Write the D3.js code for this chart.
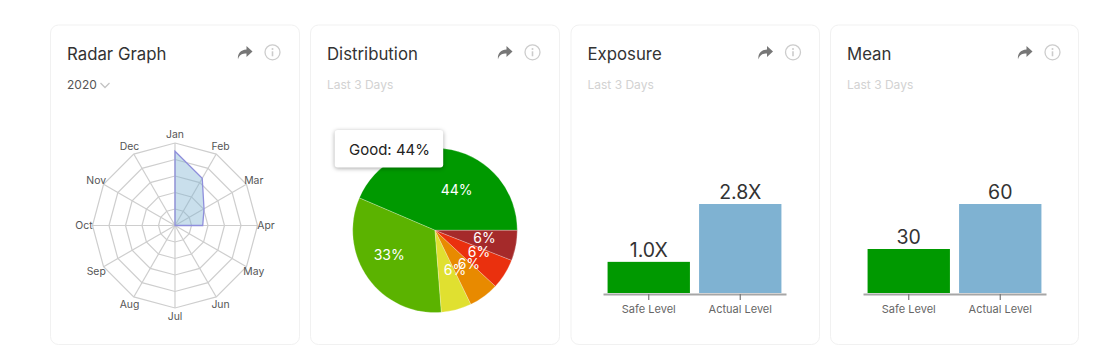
<!DOCTYPE html>
<html>
<head>
<meta charset="utf-8">
<script src="https://cdn.jsdelivr.net/npm/d3@7"></script>
<style>
  html, body { margin: 0; padding: 0; background: #fff; overflow: hidden; }
  svg { display: block; font-family: Inter, "Open Sans", sans-serif; }
  .tip { filter: drop-shadow(0 1px 2px rgba(0,0,0,.35)); }
  .axis path.domain { stroke: #a6a6a6; stroke-width: 1.8; }
  .axis line { stroke: #777; stroke-width: 1.2; }
  .axis text { font-size: 11px; fill: #666; font-family: Inter, sans-serif; }
</style>
</head>
<body>
<svg width="1110" height="362"></svg>
<script>
// card headers
const cardTitles = ["Radar Graph", "Distribution", "Exposure", "Mean"];
const cardSubs = ["2020", "Last 3 Days", "Last 3 Days", "Last 3 Days"];

// radar
const months = ["Jan", "Feb", "Mar", "Apr", "May", "Jun", "Jul", "Aug", "Sep", "Oct", "Nov", "Dec"];
const radarValues = [4.5, 3.3, 2.03, 1.68, 0, 0, 0, 0, 0, 0, 0, 0];
const radarLevels = [1, 2, 3, 4, 5];

// pie
const pieNames = ["Good", "Fair", "Moderate", "Poor", "Bad", "Severe"];
const pieValues = [44, 33, 6, 6, 6, 6];
const pieColors = ["#009900", "#5bb300", "#e0e030", "#e88a00", "#ea300e", "#a52a2a"];

// bars
const barCategories = ["Safe Level", "Actual Level"];
const barColors = ["#009900", "#7fb2d2"];
const exposureValues = [1.0, 2.8];
const meanValues = [30, 60];

const svg = d3.select("svg");

const cardX = [50.5, 310.5, 571, 830.5];
const cardW = [249, 249, 248.5, 248], cardTop = 25, cardH = 319.5;

// Cards with title, sub title and the two icons
cardTitles.forEach((title, i) => {
  const g = svg.append("g").attr("transform", `translate(${cardX[i]},${cardTop})`);
  g.append("rect")
    .attr("width", cardW[i]).attr("height", cardH).attr("rx", 8)
    .attr("fill", "#fff").attr("stroke", "#f1f1f1");
  g.append("text")
    .attr("x", 16.5).attr("y", 35)
    .attr("font-size", 16.8).attr("fill", "#333")
    .text(title);
  g.append("text")
    .attr("x", 16.5).attr("y", 64)
    .attr("font-size", 12).attr("fill", i == 0 ? "#555" : "#d2d2d2")
    .text(cardSubs[i]);
  g.append("path")
    .attr("transform", "translate(187,21)")
    .attr("d", "M9 0L15 5.5L9 11V7.6C5 7.6 2 8.6 .5 13.3C-.3 8 3 3.6 9 3.4Z")
    .attr("fill", "#777");
  const info = g.append("g").attr("transform", "translate(222,27.3)");
  info.append("circle").attr("r", 7.5).attr("fill", "none").attr("stroke", "#ccc").attr("stroke-width", 1.3);
  info.append("circle").attr("cy", -3.4).attr("r", 1).attr("fill", "#ccc");
  info.append("line").attr("y1", -1).attr("y2", 4).attr("stroke", "#ccc").attr("stroke-width", 1.6);
});

// little chevron next to the year
svg.append("path")
  .attr("d", "M100.5 83l4.5 4.5l4.5-4.5")
  .attr("fill", "none").attr("stroke", "#c4c4c4").attr("stroke-width", 1.3);

// ---- Radar ----
const radar = svg.append("g").attr("transform", "translate(175,225.5)");
const rScale = d3.scaleLinear().domain([0, 5]).range([0, 82.5]);
const angle = d3.scalePoint().domain(months.concat("end")).range([0, 2 * Math.PI]);

radar.selectAll("path.ring")
  .data(radarLevels)
  .join("path")
    .attr("class", "ring")
    .attr("fill", "none").attr("stroke", "#cecece").attr("stroke-width", 1.2)
    .attr("d", l => d3.lineRadial().curve(d3.curveLinearClosed)
      .angle(m => angle(m)).radius(() => rScale(l))(months));

radar.selectAll("line.spoke")
  .data(months)
  .join("line")
    .attr("class", "spoke")
    .attr("stroke", "#cecece").attr("stroke-width", 1.2)
    .attr("x2", m => d3.pointRadial(angle(m), rScale(5))[0])
    .attr("y2", m => d3.pointRadial(angle(m), rScale(5))[1]);

radar.append("path")
  .attr("fill", "#7fb2d2").attr("fill-opacity", .42)
  .attr("stroke", "#8f8fdc").attr("stroke-width", 1.3)
  .attr("d", d3.lineRadial().curve(d3.curveLinearClosed)
    .angle((d, i) => angle(months[i])).radius(d => rScale(d))(radarValues));

radar.selectAll("text.month")
  .data(months)
  .join("text")
    .attr("class", "month")
    .attr("text-anchor", "middle").attr("dy", ".35em")
    .attr("font-size", 10.4).attr("fill", "#555")
    .attr("x", m => d3.pointRadial(angle(m), rScale(5) + 8.5)[0])
    .attr("y", m => d3.pointRadial(angle(m), rScale(5) + 8.5)[1])
    .text(m => m);

// ---- Pie ----
const pieG = svg.append("g").attr("transform", "translate(435,230.3)");
const pieR = 82.3;
const pie = d3.pie().sort(null).startAngle(Math.PI / 2).endAngle(Math.PI / 2 - 2 * Math.PI);
const arcs = pie(pieValues);
const arc = d3.arc().innerRadius(0).outerRadius(pieR);

pieG.selectAll("path")
  .data(arcs)
  .join("path")
    .attr("d", arc)
    .attr("fill", (d, i) => pieColors[i])
    .attr("stroke", "#fff").attr("stroke-width", .25);

// labels sit off the slice middles in the picture, so angle and radius are set by hand
const labelAngle = [28, 241.8, 153.4, 134.7, 116.6, 98.5];
const labelRadius = [46, 52, 44.7, 47.7, 49.3, 50];
pieG.selectAll("text")
  .data(arcs)
  .join("text")
    .attr("text-anchor", "middle").attr("dy", ".35em")
    .attr("font-size", 14).attr("fill", "#fff")
    .attr("x", (d, i) => d3.pointRadial(labelAngle[i] * Math.PI / 180, labelRadius[i])[0])
    .attr("y", (d, i) => d3.pointRadial(labelAngle[i] * Math.PI / 180, labelRadius[i])[1])
    .text(d => d.value + "%");

// tooltip for the first slice
const tip = svg.append("g").attr("transform", "translate(334.7,130)");
tip.append("rect")
  .attr("class", "tip")
  .attr("width", 108.5).attr("height", 37.5).attr("rx", 3)
  .attr("fill", "#fff");
tip.append("text")
  .attr("x", 14.3).attr("y", 25)
  .attr("font-size", 15).attr("fill", "#222")
  .text(pieNames[0] + ": " + pieValues[0] + "%");

// ---- Bars ----
function barChart(left, values, format) {
  const x = d3.scaleBand().domain(barCategories)
    .range([left, left + 183]).paddingInner(.1).paddingOuter(.05);
  const y = d3.scaleLinear().domain([0, d3.max(values)]).range([294, 204]);
  const g = svg.append("g");

  g.append("g")
    .attr("class", "axis")
    .attr("transform", "translate(0,294)")
    .call(d3.axisBottom(x).tickSize(6).tickSizeOuter(0).tickPadding(5));

  g.selectAll("rect")
    .data(values)
    .join("rect")
      .attr("x", (d, i) => x(barCategories[i]))
      .attr("width", x.bandwidth())
      .attr("y", d => y(d))
      .attr("height", d => 293 - y(d))
      .attr("fill", (d, i) => barColors[i]);

  g.selectAll("text.value")
    .data(values)
    .join("text")
      .attr("class", "value")
      .attr("text-anchor", "middle")
      .attr("x", (d, i) => x(barCategories[i]) + x.bandwidth() / 2)
      .attr("y", d => y(d) - 5)
      .attr("font-size", 19.5).attr("fill", "#333")
      .text(format);
}

barChart(603, exposureValues, d => d.toFixed(1) + "X");
barChart(863, meanValues, d => d);
</script>
</body>
</html>
